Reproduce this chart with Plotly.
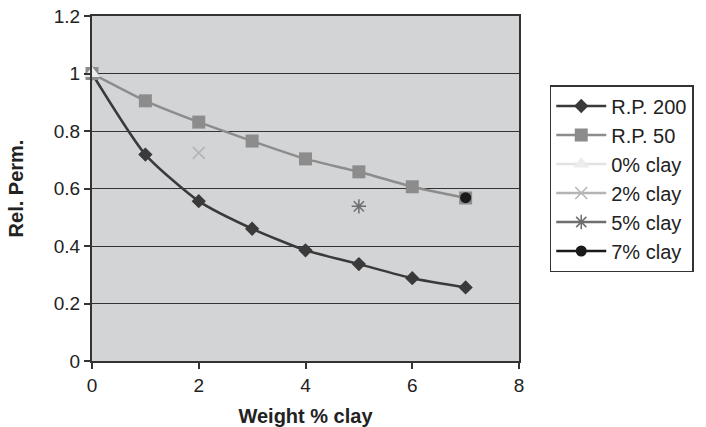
import plotly.graph_objects as go

x_rp = [0, 1, 2, 3, 4, 5, 6, 7]
rp200 = [1.0, 0.718, 0.556, 0.46, 0.385, 0.337, 0.288, 0.256]
rp50 = [1.0, 0.905, 0.831, 0.765, 0.703, 0.658, 0.606, 0.567]
clay0_x, clay0_y = [0], [1.0]
clay2_x, clay2_y = [2], [0.724]
clay5_x, clay5_y = [5], [0.538]
clay7_x, clay7_y = [7], [0.568]

FONT = "Liberation Sans, Arial, sans-serif"

fig = go.Figure()
fig.add_trace(go.Scatter(x=x_rp, y=rp200, name="R.P. 200", mode="lines+markers", cliponaxis=False,
                         line=dict(color="#3a3a3a", width=2.5, shape="spline", smoothing=0.6),
                         marker=dict(symbol="diamond", size=11, color="#3a3a3a")))
fig.add_trace(go.Scatter(x=x_rp, y=rp50, name="R.P. 50", mode="lines+markers", cliponaxis=False,
                         line=dict(color="#8c8c8c", width=2.5, shape="spline", smoothing=0.4),
                         marker=dict(symbol="square", size=13, color="#8c8c8c")))
fig.add_trace(go.Scatter(x=clay0_x, y=clay0_y, name="0% clay", mode="lines+markers", cliponaxis=False,
                         line=dict(color="#e2e2e2", width=2.5),
                         marker=dict(symbol="triangle-up", size=14, color="#ececec")))
fig.add_trace(go.Scatter(x=clay2_x, y=clay2_y, name="2% clay", mode="lines+markers", cliponaxis=False,
                         line=dict(color="#b4b4b4", width=2.5),
                         marker=dict(symbol="x-thin", size=12, line=dict(color="#b4b4b4", width=1.5))))
fig.add_trace(go.Scatter(x=clay5_x, y=clay5_y, name="5% clay", mode="lines+markers", cliponaxis=False,
                         line=dict(color="#6e6e6e", width=2.5),
                         marker=dict(symbol="asterisk", size=12, line=dict(color="#6e6e6e", width=1.5))))
fig.add_trace(go.Scatter(x=clay7_x, y=clay7_y, name="7% clay", mode="lines+markers", cliponaxis=False,
                         line=dict(color="#1a1a1a", width=2.5),
                         marker=dict(symbol="circle", size=11, color="#1a1a1a")))

fig.update_layout(
    width=706, height=427,
    margin=dict(l=92, r=185, t=16, b=66),
    paper_bgcolor="white", plot_bgcolor="#d3d4d6",
    font=dict(family=FONT, size=20, color="#222222"),
    legend=dict(x=1.072, y=0.80, xanchor="left", yanchor="top",
                bordercolor="#333333", borderwidth=1.5, bgcolor="white",
                font=dict(size=20), tracegroupgap=1, itemwidth=50),
    showlegend=True,
)
fig.update_xaxes(range=[0, 8], dtick=2, showgrid=False, zeroline=False, automargin=False,
                 showline=True, linecolor="#333333", linewidth=2, mirror=True,
                 ticks="outside", ticklen=6, tickcolor="#333333", tickwidth=1.5,
                 tickfont=dict(size=19),
                 title=dict(text="<b>Weight % clay</b>", font=dict(size=20), standoff=14))
fig.update_yaxes(range=[0, 1.2], dtick=0.2, showgrid=True, gridcolor="#333333", gridwidth=1.2,
                 zeroline=False, showline=True, linecolor="#333333", linewidth=2, mirror=True,
                 automargin=False,
                 ticks="outside", ticklen=6, tickcolor="#333333", tickwidth=1.5,
                 tickfont=dict(size=19),
                 title=dict(text="<b>Rel. Perm.</b>", font=dict(size=20), standoff=25))

fig.write_html("out.html")
